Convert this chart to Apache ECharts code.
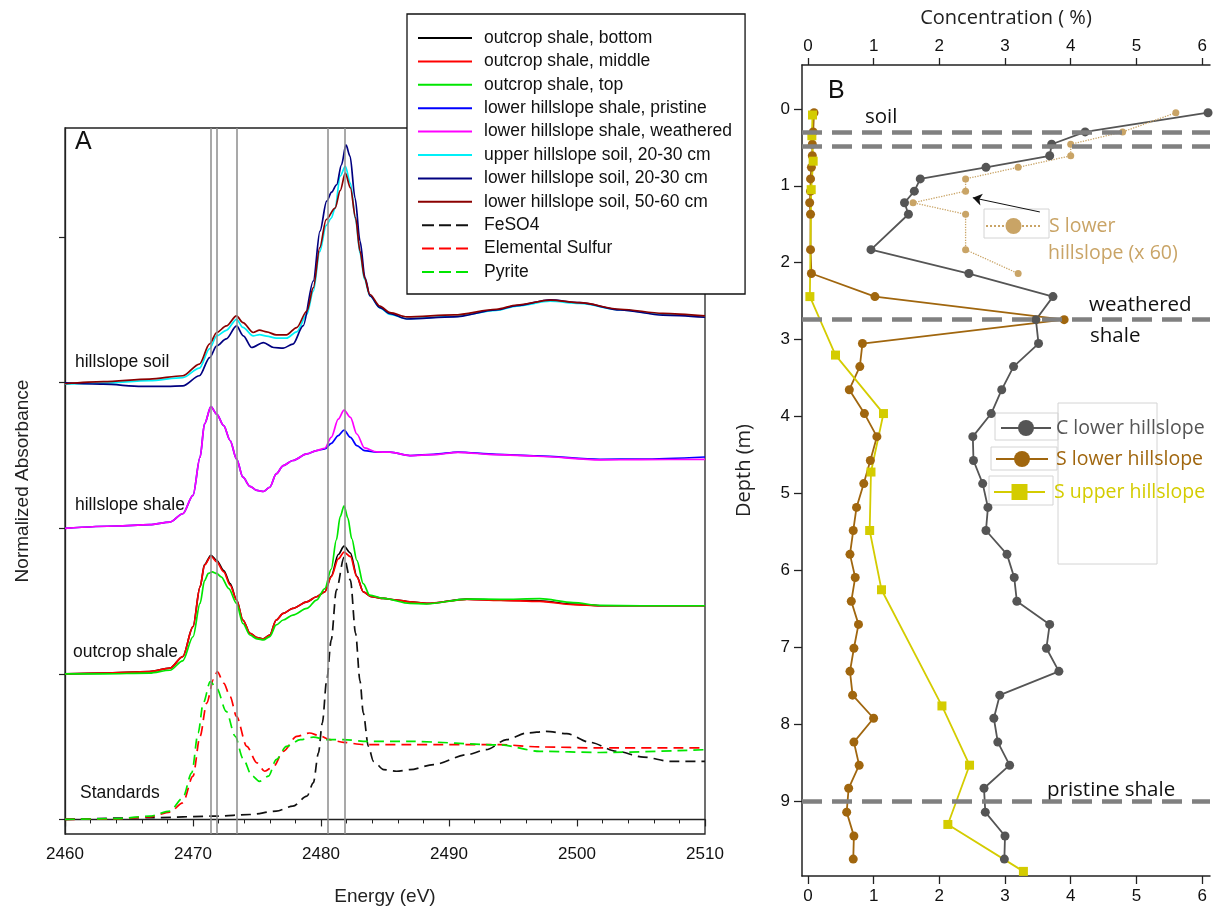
<!DOCTYPE html>
<html>
<head>
<meta charset="utf-8">
<script src="https://cdn.jsdelivr.net/npm/echarts@6/dist/echarts.min.js"></script>
<style>
  html, body { margin: 0; background: #fff; }
  #chart { width: 1214px; height: 911px; }
</style>
</head>
<body>
<div id="chart"></div>
<script>
// ---- panel A: S K-edge XANES spectra, [energy eV, offset absorbance] ----
const outcropBottom = [[2460,1.0],[2463,1.005],[2466.6,1.015],[2468.2,1.039],[2469.2,1.119],[2470.0,1.324],[2470.55,1.598],[2470.9,1.75],[2471.4,1.815],[2471.85,1.78],[2472.4,1.71],[2472.9,1.62],[2473.4,1.51],[2473.9,1.37],[2474.45,1.279],[2475.0,1.249],[2475.5,1.24],[2476.0,1.267],[2476.5,1.37],[2477.05,1.416],[2477.8,1.45],[2478.9,1.495],[2479.65,1.53],[2480.3,1.564],[2480.8,1.67],[2481.35,1.82],[2481.8,1.877],[2482.3,1.83],[2482.8,1.67],[2483.3,1.564],[2483.95,1.53],[2484.9,1.518],[2485.9,1.507],[2486.95,1.495],[2488.25,1.484],[2491.4,1.514],[2494,1.507],[2497.1,1.502],[2499.7,1.479],[2501.8,1.468],[2505,1.468],[2510,1.468]];
const outcropMiddle = [[2460,1.0],[2463,1.005],[2466.6,1.015],[2468.2,1.039],[2469.2,1.119],[2470.0,1.324],[2470.55,1.598],[2470.9,1.747],[2471.4,1.808],[2471.85,1.769],[2472.4,1.701],[2472.9,1.61],[2473.4,1.507],[2473.9,1.37],[2474.45,1.279],[2475.0,1.249],[2475.5,1.24],[2476.0,1.267],[2476.5,1.37],[2477.05,1.416],[2477.8,1.45],[2478.9,1.495],[2479.65,1.53],[2480.3,1.564],[2480.8,1.667],[2481.35,1.79],[2481.8,1.837],[2482.3,1.805],[2482.8,1.667],[2483.3,1.564],[2483.95,1.53],[2484.9,1.518],[2485.9,1.507],[2486.95,1.495],[2488.25,1.484],[2491.4,1.512],[2494,1.505],[2497.1,1.498],[2499.7,1.476],[2501.8,1.468],[2505,1.468],[2510,1.468]];
const outcropTop = [[2460,1.0],[2463,1.0],[2466.6,1.005],[2468.2,1.025],[2469.2,1.09],[2470.0,1.255],[2470.55,1.484],[2470.9,1.64],[2471.2,1.69],[2471.5,1.701],[2471.85,1.69],[2472.2,1.667],[2472.8,1.586],[2473.4,1.484],[2473.9,1.346],[2474.45,1.267],[2475.0,1.24],[2475.5,1.233],[2476.0,1.256],[2476.5,1.336],[2477.05,1.37],[2477.8,1.404],[2478.9,1.45],[2479.65,1.507],[2480.3,1.586],[2480.8,1.72],[2481.2,1.92],[2481.5,2.08],[2481.8,2.155],[2482.1,2.07],[2482.4,1.93],[2482.8,1.78],[2483.3,1.62],[2483.8,1.541],[2484.9,1.518],[2486.95,1.484],[2488.25,1.48],[2491.4,1.514],[2494,1.512],[2497.1,1.517],[2499.7,1.49],[2501.8,1.47],[2505,1.468],[2510,1.468]];
const shalePristine = [[2460,2.0],[2464,2.016],[2466.6,2.025],[2468.2,2.043],[2469.2,2.1],[2470.0,2.226],[2470.55,2.488],[2470.9,2.717],[2471.4,2.836],[2471.85,2.784],[2472.4,2.705],[2472.9,2.603],[2473.4,2.477],[2473.9,2.351],[2474.45,2.288],[2475.0,2.26],[2475.5,2.253],[2476.0,2.282],[2476.5,2.374],[2477.05,2.431],[2477.8,2.466],[2478.9,2.511],[2479.65,2.534],[2480.3,2.545],[2480.8,2.584],[2481.35,2.637],[2481.8,2.675],[2482.3,2.625],[2482.8,2.568],[2483.4,2.534],[2484.35,2.523],[2485.4,2.523],[2486.95,2.5],[2488.8,2.508],[2490.7,2.524],[2493.7,2.508],[2496.9,2.497],[2501.8,2.474],[2505,2.476],[2510,2.49]];
const shaleWeathered = [[2460,2.0],[2464,2.016],[2466.6,2.025],[2468.2,2.043],[2469.2,2.1],[2470.0,2.226],[2470.55,2.488],[2470.9,2.717],[2471.4,2.836],[2471.85,2.784],[2472.4,2.705],[2472.9,2.603],[2473.4,2.477],[2473.9,2.351],[2474.45,2.288],[2475.0,2.26],[2475.5,2.253],[2476.0,2.282],[2476.5,2.374],[2477.05,2.431],[2477.8,2.466],[2478.9,2.511],[2479.65,2.534],[2480.3,2.55],[2480.8,2.625],[2481.35,2.75],[2481.8,2.812],[2482.3,2.762],[2482.8,2.648],[2483.4,2.552],[2484.35,2.525],[2485.4,2.523],[2486.95,2.5],[2488.8,2.506],[2490.7,2.522],[2493.7,2.506],[2496.9,2.495],[2501.8,2.47],[2505,2.472],[2510,2.474]];
const soilUpper2030 = [[2460,2.99],[2463,2.997],[2466.6,3.014],[2469.2,3.035],[2470.5,3.1],[2471.3,3.235],[2471.85,3.322],[2472.6,3.36],[2473.4,3.436],[2473.9,3.38],[2474.7,3.322],[2475.2,3.33],[2475.75,3.32],[2476.5,3.306],[2477.3,3.306],[2478.1,3.35],[2478.9,3.47],[2479.4,3.63],[2479.9,3.9],[2480.4,4.08],[2480.8,4.13],[2481.1,4.2],[2481.5,4.42],[2481.9,4.486],[2482.3,4.37],[2482.7,4.12],[2483.05,3.89],[2483.4,3.71],[2483.8,3.6],[2484.6,3.515],[2485.4,3.47],[2486.7,3.44],[2490.4,3.455],[2493.7,3.497],[2495.3,3.527],[2497.9,3.56],[2500.2,3.545],[2503.4,3.5],[2506.7,3.47],[2510,3.455]];
const soilLower2030 = [[2460,3.0],[2463,2.99],[2466,2.975],[2468,2.975],[2469.2,2.979],[2470.5,3.048],[2471.3,3.173],[2471.85,3.253],[2472.6,3.301],[2473.4,3.39],[2473.93,3.322],[2474.58,3.242],[2475.5,3.276],[2476.3,3.242],[2477.05,3.238],[2477.8,3.265],[2478.6,3.39],[2479.4,3.699],[2479.92,4.041],[2480.44,4.247],[2480.83,4.309],[2481.22,4.36],[2481.6,4.497],[2481.95,4.634],[2482.27,4.555],[2482.66,4.27],[2483.05,3.973],[2483.44,3.721],[2483.83,3.596],[2484.6,3.516],[2485.4,3.475],[2486.7,3.438],[2490.4,3.452],[2493.7,3.5],[2495.3,3.53],[2497.9,3.57],[2500.2,3.55],[2503.4,3.5],[2506.7,3.465],[2510,3.45]];
const soilLower5060 = [[2460,2.993],[2463,3.007],[2466.6,3.025],[2469.2,3.048],[2470.5,3.128],[2471.3,3.267],[2471.85,3.345],[2472.6,3.39],[2473.4,3.459],[2473.9,3.413],[2474.7,3.345],[2475.2,3.361],[2475.75,3.349],[2476.5,3.329],[2477.3,3.329],[2478.1,3.379],[2478.9,3.493],[2479.4,3.653],[2479.9,3.927],[2480.4,4.121],[2481.1,4.2],[2481.5,4.32],[2481.9,4.44],[2482.3,4.338],[2482.7,4.132],[2483.05,3.904],[2483.4,3.721],[2483.8,3.608],[2484.6,3.527],[2485.4,3.482],[2486.7,3.452],[2490.4,3.466],[2493.7,3.505],[2495.3,3.534],[2497.9,3.568],[2500.2,3.55],[2503.4,3.505],[2506.7,3.477],[2510,3.459]];
const feso4 = [[2460,0.0],[2466.6,0.012],[2471.85,0.023],[2474.45,0.034],[2476.5,0.057],[2477.8,0.091],[2478.9,0.16],[2479.4,0.251],[2479.8,0.456],[2480.1,0.661],[2480.45,0.959],[2480.8,1.233],[2481.2,1.575],[2481.8,1.8],[2482.3,1.644],[2482.7,1.279],[2483.05,0.95],[2483.3,0.733],[2483.7,0.502],[2484.1,0.399],[2484.9,0.342],[2485.9,0.331],[2486.95,0.342],[2488.8,0.377],[2491.4,0.445],[2492.9,0.479],[2494.5,0.548],[2496.1,0.594],[2497.6,0.605],[2499.2,0.589],[2501,0.53],[2503.1,0.468],[2505.2,0.428],[2507.3,0.399],[2510,0.399]];
const sulfur = [[2460,0.0],[2464,0.003],[2466.6,0.018],[2468.2,0.05],[2469.2,0.114],[2470.0,0.297],[2470.55,0.571],[2471.07,0.799],[2471.6,0.96],[2471.9,1.016],[2472.4,0.936],[2472.9,0.845],[2473.4,0.708],[2474.2,0.502],[2475.0,0.388],[2475.6,0.331],[2476.3,0.365],[2477.05,0.468],[2478.1,0.571],[2479.1,0.594],[2479.9,0.575],[2480.7,0.548],[2481.75,0.53],[2483.3,0.514],[2486.95,0.514],[2494,0.514],[2497.1,0.498],[2501.8,0.491],[2510,0.491]];
const pyrite = [[2460,0.0],[2464,0.005],[2466.6,0.023],[2468.2,0.057],[2469.2,0.148],[2469.9,0.32],[2470.4,0.594],[2470.8,0.799],[2471.35,0.947],[2471.85,0.901],[2472.6,0.742],[2473.3,0.571],[2473.9,0.42],[2474.6,0.3],[2475.2,0.262],[2475.9,0.297],[2476.5,0.411],[2477.3,0.502],[2478.4,0.548],[2479.4,0.565],[2480.45,0.548],[2481.75,0.548],[2483.6,0.536],[2486.95,0.536],[2494,0.512],[2497.1,0.468],[2501.8,0.46],[2510,0.479]];
const energyRefLines = [2471.4, 2471.85, 2473.45, 2480.5, 2481.85];
const baselineTicks = [0, 1, 2, 3, 4];

// ---- panel B: depth profiles ----
const depthLower = [0.05,0.30,0.46,0.61,0.76,0.91,1.07,1.22,1.37,1.83,2.14,2.44,2.74,3.05,3.35,3.65,3.96,4.26,4.57,4.87,5.18,5.48,5.79,6.09,6.40,6.70,7.01,7.31,7.62,7.92,8.23,8.53,8.83,9.14,9.45,9.75];
const carbonLower = [6.09,4.22,3.71,3.68,2.71,1.71,1.62,1.47,1.53,0.96,2.45,3.73,3.47,3.51,3.13,2.95,2.79,2.51,2.52,2.66,2.74,2.71,3.03,3.14,3.18,3.68,3.63,3.82,2.92,2.83,2.89,3.07,2.68,2.70,3.00,2.99];
const sulfurLower = [0.093,0.08,0.067,0.067,0.053,0.04,0.04,0.027,0.04,0.04,0.053,1.02,3.90,0.83,0.79,0.63,0.86,1.05,0.95,0.85,0.74,0.69,0.64,0.72,0.66,0.77,0.70,0.64,0.68,1.00,0.70,0.78,0.62,0.59,0.70,0.69];
const depthSoilX60 = [0.05,0.30,0.46,0.61,0.76,0.91,1.07,1.22,1.37,1.83,2.14];
const sulfurLowerX60 = [5.60,4.79,4.00,4.00,3.20,2.40,2.40,1.60,2.40,2.40,3.20];
const depthUpper = [0.08,0.35,0.68,1.05,2.44,3.20,3.96,4.72,5.48,6.25,7.76,8.53,9.30,9.91];
const sulfurUpper = [0.07,0.06,0.08,0.05,0.03,0.42,1.15,0.96,0.94,1.12,2.04,2.46,2.13,3.28];
const horizonDepths = [0.30, 0.49, 2.74, 9.0];
const arrowFromTo = [[3.53, 1.34], [2.51, 1.155]];
const concTicks = [0, 1, 2, 3, 4, 5, 6];
const depthTicks = [0, 1, 2, 3, 4, 5, 6, 7, 8, 9];

const fontA = "Liberation Sans, Arial, sans-serif";
const fontB = "Open Sans, sans-serif";
const solidIcon = "path://M0,0h54v2h-54z";
const dashIcon = "path://M0,0h12v2h-12zM17,0h12v2h-12zM34,0h12v2h-12z";

const spectra = [
  { name: "outcrop shale, bottom", data: outcropBottom, color: "#000000" },
  { name: "outcrop shale, middle", data: outcropMiddle, color: "#ff0000" },
  { name: "outcrop shale, top", data: outcropTop, color: "#00e600" },
  { name: "lower hillslope shale, pristine", data: shalePristine, color: "#0000ff" },
  { name: "lower hillslope shale, weathered", data: shaleWeathered, color: "#ff00ff" },
  { name: "upper hillslope soil, 20-30 cm", data: soilUpper2030, color: "#00f0f8" },
  { name: "lower hillslope soil, 20-30 cm", data: soilLower2030, color: "#000080" },
  { name: "lower hillslope soil, 50-60 cm", data: soilLower5060, color: "#8b0000" },
  { name: "FeSO4", data: feso4, color: "#111111", dashed: true },
  { name: "Elemental Sulfur", data: sulfur, color: "#ff0000", dashed: true },
  { name: "Pyrite", data: pyrite, color: "#00e600", dashed: true },
];

const colC = "#555555";
const colSL = "#a0660e";
const colSU = "#d4cc00";
const colX60 = "#c9a466";

const chart = echarts.init(document.getElementById("chart"));

const spectraSeries = spectra.map((s) => ({
  name: s.name,
  type: "line",
  xAxisIndex: 0,
  yAxisIndex: 0,
  data: s.data,
  symbol: "none",
  smooth: 0.3,
  smoothMonotone: "x",
  color: s.color,
  itemStyle: { color: s.color },
  lineStyle: { color: s.color, width: 1.7, type: s.dashed ? [10, 6] : "solid" },
}));

// vertical reference energies
spectraSeries[0].markLine = {
  silent: true,
  symbol: "none",
  label: { show: false },
  lineStyle: { color: "#8c8c8c", width: 1.5, type: "solid" },
  data: energyRefLines.map((e) => ({ xAxis: e })),
};

const pairs = (xs, ys) => xs.map((x, i) => [x, ys[i]]);

const profileSeries = [
  {
    name: "C lower hillslope",
    type: "line",
    xAxisIndex: 1,
    yAxisIndex: 1,
    data: pairs(carbonLower, depthLower),
    color: colC,
    itemStyle: { color: colC },
    symbol: "circle",
    symbolSize: 9,
    lineStyle: { color: colC, width: 1.8 },
    z: 3,
    markLine: {
      silent: true,
      symbol: "none",
      label: { show: false },
      lineStyle: { color: "#808080", width: 4.5, type: [20, 10] },
      data: horizonDepths.map((d) => ({ yAxis: d })),
    },
  },
  {
    name: "S lower hillslope",
    type: "line",
    xAxisIndex: 1,
    yAxisIndex: 1,
    data: pairs(sulfurLower, depthLower),
    color: colSL,
    itemStyle: { color: colSL },
    symbol: "circle",
    symbolSize: 9,
    lineStyle: { color: colSL, width: 1.8 },
  },
  {
    name: "S upper hillslope",
    type: "line",
    xAxisIndex: 1,
    yAxisIndex: 1,
    data: pairs(sulfurUpper, depthUpper),
    color: colSU,
    itemStyle: { color: colSU },
    symbol: "rect",
    symbolSize: 9,
    lineStyle: { color: colSU, width: 1.8 },
  },
  {
    name: "S lower hillslope (x 60)",
    type: "line",
    xAxisIndex: 1,
    yAxisIndex: 1,
    data: pairs(sulfurLowerX60, depthSoilX60),
    color: colX60,
    itemStyle: { color: colX60 },
    symbol: "circle",
    symbolSize: 7,
    lineStyle: { color: colX60, width: 1.3, type: "dotted" },
    markLine: {
      silent: true,
      symbol: ["none", "arrow"],
      symbolSize: 9,
      label: { show: false },
      lineStyle: { color: "#111", width: 1, type: "solid" },
      data: [[{ coord: arrowFromTo[0] }, { coord: arrowFromTo[1] }]],
    },
  },
];

function profileLegend(name, color, left, top, itemWidth, pad) {
  return {
    data: [name],
    left,
    top,
    padding: 0,
    itemWidth,
    itemHeight: 20,
    selectedMode: false,
    textStyle: {
      color,
      fontFamily: fontB,
      fontSize: 19.5,
      lineHeight: 20,
      padding: [0, 0, 0, pad],
    },
  };
}

function label(text, x, y, size, family, fill) {
  return {
    type: "text",
    x,
    y,
    silent: true,
    style: { text, fontSize: size, fontFamily: family, fill, verticalAlign: "middle" },
  };
}

const frame = (x, y, w, h) => ({
  type: "rect",
  silent: true,
  shape: { x, y, width: w, height: h },
  style: { fill: "none", stroke: "#d4d4d4", lineWidth: 1 },
  z: 1,
});

const plainNumber = (v) => String(v);

const option = {
  backgroundColor: "#fff",
  animation: false,
  grid: [
    {
      left: 65, top: 128, width: 640, height: 706,
      show: true, borderColor: "#222", borderWidth: 1.3, backgroundColor: "transparent",
    },
    { left: 802, top: 65, width: 408, height: 811 },
  ],
  legend: [
    {
      data: spectra.map((s) => ({ name: s.name, icon: s.dashed ? dashIcon : solidIcon })),
      orient: "vertical",
      left: 407,
      top: 14,
      padding: [15, 13, 13, 11],
      itemWidth: 54,
      itemHeight: 2,
      itemGap: 5.4,
      selectedMode: false,
      backgroundColor: "#fff",
      borderColor: "#111",
      borderWidth: 1.3,
      borderRadius: 0,
      textStyle: {
        fontFamily: fontA,
        fontSize: 17.5,
        lineHeight: 17,
        color: "#111",
        padding: [0, 0, 0, 7],
      },
    },
    profileLegend("C lower hillslope", colC, 1000, 418, 50, 0),
    profileLegend("S lower hillslope", colSL, 995, 449, 52, 3),
    profileLegend("S upper hillslope", colSU, 993, 482, 51, 4),
    Object.assign(profileLegend("S lower hillslope (x 60)", colX60, 985, 216, 55, 3), {
      formatter: () => "S lower",
    }),
  ],
  xAxis: [
    {
      gridIndex: 0,
      type: "value",
      min: 2460,
      max: 2510,
      interval: 10,
      name: "Energy (eV)",
      nameLocation: "middle",
      nameGap: 53,
      nameTextStyle: { fontFamily: fontA, fontSize: 19, color: "#222" },
      axisLine: { show: true, lineStyle: { color: "#222", width: 1.3 } },
      axisTick: { show: true, length: 7, lineStyle: { color: "#222", width: 1.2 } },
      minorTick: { show: true, splitNumber: 5, length: 4, lineStyle: { color: "#222", width: 1 } },
      axisLabel: { fontFamily: fontA, fontSize: 17, color: "#111", margin: 12, formatter: plainNumber },
      splitLine: { show: false },
    },
    {
      gridIndex: 1,
      type: "value",
      min: -0.09,
      max: 6.12,
      position: "bottom",
      axisLine: { show: true, onZero: false, lineStyle: { color: "#222", width: 1.5 } },
      axisTick: { show: true, length: 8, customValues: concTicks, lineStyle: { color: "#222", width: 1.3 } },
      axisLabel: { customValues: concTicks, fontFamily: fontA, fontSize: 17, color: "#111", margin: 12 },
      splitLine: { show: false },
    },
    {
      gridIndex: 1,
      type: "value",
      min: -0.09,
      max: 6.12,
      position: "top",
      name: "Concentration ( %)",
      nameLocation: "middle",
      nameGap: 37,
      nameTextStyle: { fontFamily: fontB, fontSize: 20, color: "#222" },
      axisLine: { show: true, onZero: false, lineStyle: { color: "#222", width: 1.5 } },
      axisTick: { show: true, length: 7, customValues: concTicks, lineStyle: { color: "#222", width: 1.3 } },
      axisLabel: { customValues: concTicks, fontFamily: fontA, fontSize: 17, color: "#111", margin: 10 },
      splitLine: { show: false },
    },
  ],
  yAxis: [
    {
      gridIndex: 0,
      type: "value",
      min: -0.1,
      max: 4.75,
      name: "Normalized Absorbance",
      nameLocation: "middle",
      nameGap: 33,
      nameTextStyle: { fontFamily: fontA, fontSize: 19, color: "#222" },
      axisLine: { show: true, lineStyle: { color: "#222", width: 1.3 } },
      axisTick: { show: true, length: 6, customValues: baselineTicks, lineStyle: { color: "#222", width: 1.2 } },
      axisLabel: { show: false },
      splitLine: { show: false },
    },
    {
      gridIndex: 1,
      type: "value",
      inverse: true,
      min: -0.57,
      max: 9.97,
      name: "Depth (m)",
      nameLocation: "middle",
      nameGap: 48,
      nameTextStyle: { fontFamily: fontB, fontSize: 20, color: "#222" },
      axisLine: { show: true, onZero: false, lineStyle: { color: "#222", width: 1.5 } },
      axisTick: { show: true, length: 8, customValues: depthTicks, lineStyle: { color: "#222", width: 1.3 } },
      axisLabel: { customValues: depthTicks, fontFamily: fontA, fontSize: 17, color: "#111", margin: 12 },
      splitLine: { show: false },
    },
  ],
  graphic: [
    label("A", 75, 142, 25, fontA, "#111"),
    label("hillslope soil", 75, 362, 17.5, fontA, "#111"),
    label("hillslope shale", 75, 505, 17.5, fontA, "#111"),
    label("outcrop shale", 73, 652, 17.5, fontA, "#111"),
    label("Standards", 80, 793, 17.5, fontA, "#111"),
    label("B", 828, 91, 25, fontA, "#111"),
    label("soil", 865, 117, 20.5, fontB, "#111"),
    label("weathered", 1089, 305, 20.5, fontB, "#111"),
    label("shale", 1090, 336, 20.5, fontB, "#111"),
    label("pristine shale", 1047, 790, 20.5, fontB, "#111"),
    label("hillslope (x 60)", 1048, 253, 19.5, fontB, colX60),
    frame(984, 209, 65, 29),
    frame(995, 413, 63, 27),
    frame(991, 447, 66, 23),
    frame(989, 476, 64, 29),
    frame(1058, 403, 99, 161),
  ],
  series: [...spectraSeries, ...profileSeries],
};

chart.setOption(option);
</script>
</body>
</html>
